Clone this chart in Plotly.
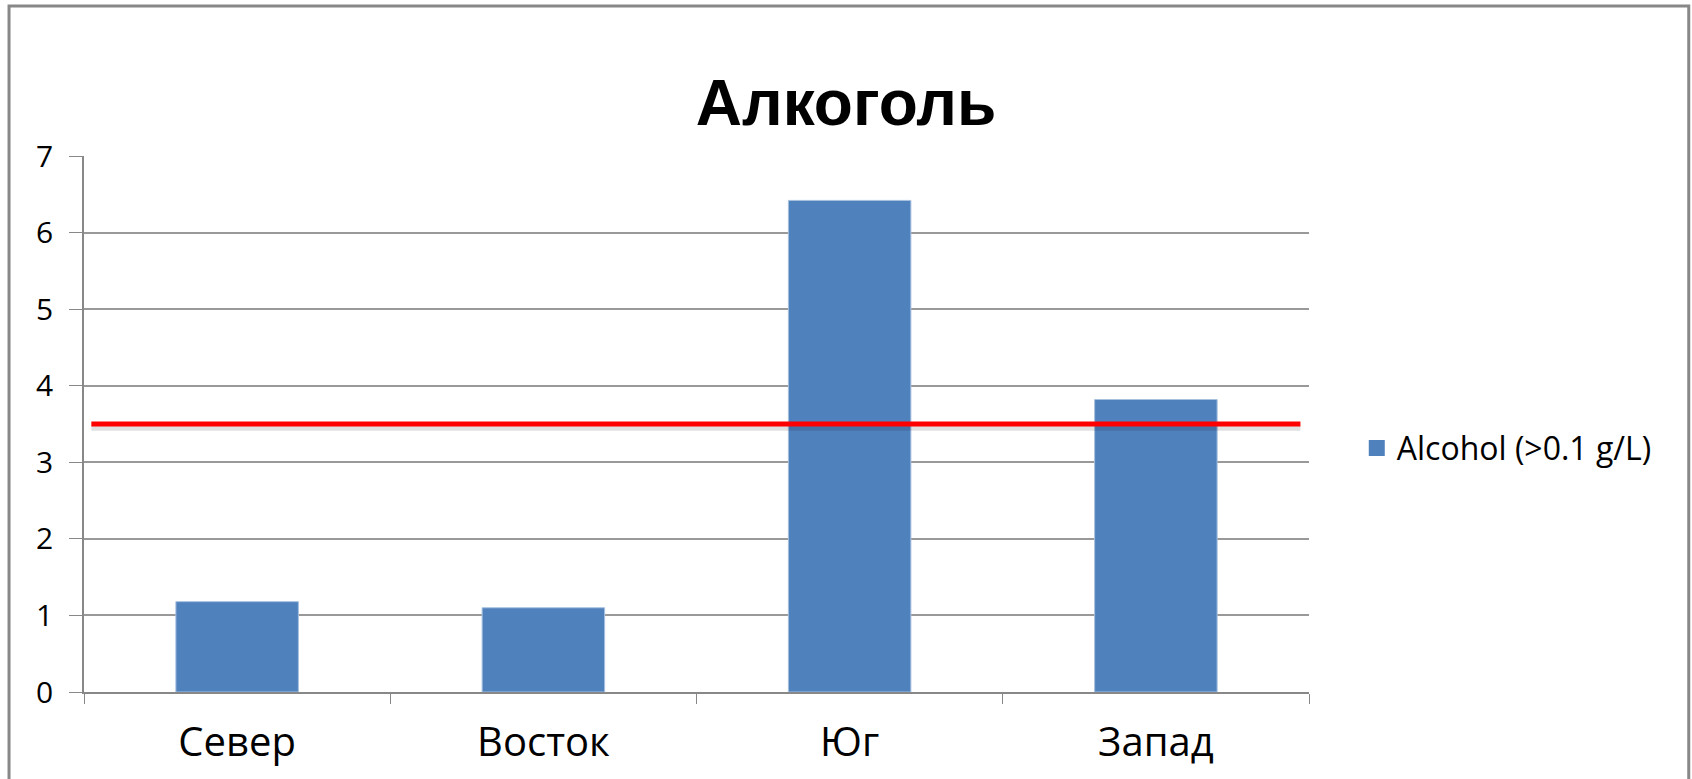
import plotly.graph_objects as go

categories = ["Север", "Восток", "Юг", "Запад"]
values = [1.18, 1.10, 6.42, 3.82]
series_name = "Alcohol (>0.1 g/L)"
threshold = 3.5
y_ticks = [0, 1, 2, 3, 4, 5, 6, 7]
title_text = "Алкоголь"

FONT = "Open Sans, Noto Sans, DejaVu Sans, sans-serif"
BAR_COLOR = "#4F81BD"

fig = go.Figure()
fig.add_trace(go.Bar(
    x=categories, y=values, name=series_name,
    marker=dict(color=BAR_COLOR, line=dict(color="#A7C0DE", width=1)),
    showlegend=False, legendgroup="a",
))
# legend entry with a larger square swatch
fig.add_trace(go.Scatter(
    x=[None], y=[None], mode="markers", name=series_name, legendgroup="a",
    marker=dict(symbol="square", size=16, color=BAR_COLOR),
))

# shadow of the threshold line
fig.add_shape(type="line", xref="paper", yref="y", x0=0.006, x1=0.993,
              y0=threshold - 0.05, y1=threshold - 0.05,
              line=dict(color="rgba(0,0,0,0.12)", width=6), layer="above")
fig.add_shape(type="line", xref="paper", yref="y", x0=0.006, x1=0.993,
              y0=threshold, y1=threshold,
              line=dict(color="#FF0000", width=5), layer="above")

# outer border
fig.add_shape(type="rect", xref="paper", yref="paper",
              x0=-0.0612, x1=1.310, y0=-0.19, y1=1.280,
              line=dict(color="#888888", width=3), fillcolor="rgba(0,0,0,0)")

fig.update_layout(
    width=1692, height=779,
    margin=dict(l=84, r=383, t=156, b=87),
    paper_bgcolor="white", plot_bgcolor="white",
    bargap=0.6,
    title=dict(text=title_text, x=0.5, xref="container", xanchor="center",
               y=1 - 95 * 1.079 / 779, yref="container", yanchor="middle",
               font=dict(family="Liberation Sans, Arial, sans-serif", size=64, color="black", weight="bold")),
    font=dict(family=FONT, color="black"),
    legend=dict(x=1.039, y=0.455, xanchor="left", yanchor="middle",
                font=dict(size=32, family=FONT), bgcolor="rgba(0,0,0,0)",
                itemwidth=30),
    xaxis=dict(
        type="category", tickson="boundaries", ticks="outside", ticklen=10,
        tickcolor="#888888", showgrid=False, showline=True, linecolor="#888888",
        linewidth=1.5, tickfont=dict(size=40, family=FONT), ticklabelstandoff=14,
    ),
    yaxis=dict(
        range=[0, 7], tickvals=y_ticks, ticks="outside", ticklen=13,
        tickcolor="#888888", showgrid=True, gridcolor="#999999", gridwidth=1.5,
        showline=True, linecolor="#888888", linewidth=1.5, zeroline=False,
        tickfont=dict(size=30, family=FONT), ticklabelstandoff=10,
    ),
)

fig.write_html("out.html", config={"displayModeBar": False},
               post_script="document.body.style.margin='0';")
